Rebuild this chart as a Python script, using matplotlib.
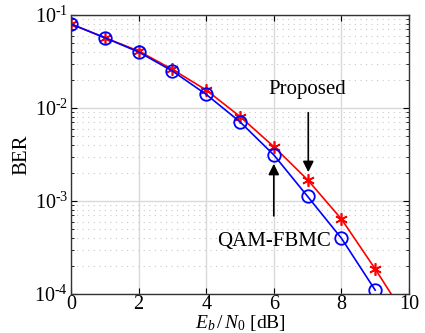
import numpy as np
import matplotlib
matplotlib.use("Agg")
import matplotlib.pyplot as plt

plt.rcParams['font.family'] = ['Liberation Serif', 'DejaVu Serif']
plt.rcParams['mathtext.fontset'] = 'custom'
plt.rcParams['mathtext.rm'] = 'Liberation Serif'
plt.rcParams['mathtext.it'] = 'Liberation Serif:italic'

# Eb/N0 in dB
snr_db = [0, 1, 2, 3, 4, 5, 6, 7, 8, 9, 10]
# BER of the proposed scheme (red, asterisks)
ber_proposed = [0.080, 0.057, 0.041, 0.026, 0.0156, 0.0081, 0.00384, 0.00169, 0.00064, 0.000186, 0.00005]
# BER of QAM-FBMC (blue, circles)
snr_db_qam = [0, 1, 2, 3, 4, 5, 6, 7, 8, 9]
ber_qam_fbmc = [0.080, 0.057, 0.040, 0.025, 0.0140, 0.0071, 0.00313, 0.00112, 0.000398, 0.00011]
ytick_labels = [r"10$^{\text{-}4}$", r"10$^{\text{-}3}$", r"10$^{\text{-}2}$", r"10$^{\text{-}1}$"]

fig = plt.figure(figsize=(4.25, 3.33), dpi=100)
ax = fig.add_axes([71 / 425, 1 - 294 / 333, 338 / 425, 279 / 333])

ax.semilogy(snr_db, ber_proposed, color="red", linewidth=1.2, marker=(6, 2, 0),
            markersize=9, markeredgewidth=1.2, label="Proposed")
ax.semilogy(snr_db_qam, ber_qam_fbmc, color="blue", linewidth=1.2, marker="o",
            markersize=9, markerfacecolor="none", markeredgewidth=1.3, label="QAM-FBMC")

ax.set_xlim(0, 10)
ax.set_ylim(1e-4, 1e-1)
ax.set_xticks([0, 2, 4, 6, 8, 10])
ax.set_yticks([1e-4, 1e-3, 1e-2, 1e-1])
ax.set_yticklabels(ytick_labels)

ax.grid(True, which="major", color="#d9d9d9", linewidth=1.0, linestyle="-")
ax.grid(True, which="minor", axis="y", color="#c8c8c8", linewidth=0.8, linestyle=(0, (1, 4)))
ax.set_axisbelow(True)

ax.tick_params(which="both", direction="in", top=True, right=True, labelsize=14.5)
ax.tick_params(axis="x", pad=1)
ax.tick_params(axis="y", pad=2)
ax.tick_params(which="major", length=4)
ax.tick_params(which="minor", length=2)
for s in ax.spines.values():
    s.set_color("#333333")
    s.set_linewidth(1.0)

ax.set_xlabel(r"$E_b\,/\,N_0$ [dB]", fontsize=14, labelpad=-1)
ax.set_ylabel("BER", fontsize=15, labelpad=2)

ax.annotate("", xy=(7.02, 10 ** -2.72), xytext=(7.02, 10 ** -2.02),
            arrowprops=dict(arrowstyle="-|>", color="black", lw=1.2, mutation_scale=16))
ax.text(7.0, 10 ** -1.8, "Proposed", fontsize=15, ha="center", va="center")

ax.annotate("", xy=(6.0, 10 ** -2.57), xytext=(6.0, 10 ** -3.19),
            arrowprops=dict(arrowstyle="-|>", color="black", lw=1.2, mutation_scale=16))
ax.text(6.0, 10 ** -3.44, "QAM-FBMC", fontsize=15, ha="center", va="center")

fig.savefig("out.png", dpi=100)
